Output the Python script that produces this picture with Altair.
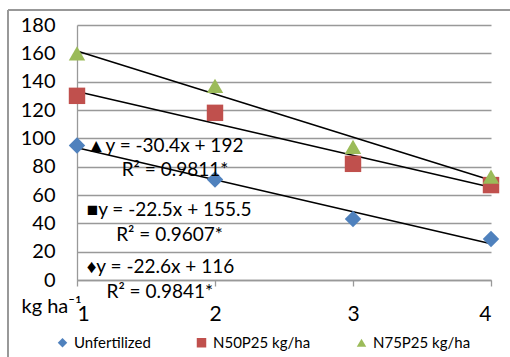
import altair as alt
import pandas as pd

doses = [1, 2, 3, 4]
series_names = ["Unfertilized", "N50P25 kg/ha", "N75P25 kg/ha"]
unfertilized = [95, 71, 43, 29]
n50p25 = [130, 118, 82, 67]
n75p25 = [160, 137, 94, 73]
colors = ["#4F81BD", "#C0504D", "#9BBB59"]
shapes = ["diamond", "square", "triangle-up"]
y_ticks = [0, 20, 40, 60, 80, 100, 120, 140, 160, 180]

ann_text = ["▲y = -30.4x + 192", "R² = 0.9811*",
            "■y = -22.5x + 155.5", "R² = 0.9607*",
            "♦y = -22.6x + 116", "R² = 0.9841*"]
ann_x = [1.07, 1.71, 1.07, 1.67, 1.07, 1.60]
ann_y = [94.3, 77.6, 49.2, 31.8, 9.4, -8.3]
ann_kind = ["eq", "r2", "eq", "r2", "eq", "r2"]

rows = []
for name, vals in zip(series_names, [unfertilized, n50p25, n75p25]):
    for d, v in zip(doses, vals):
        rows.append({"dose": d, "yield": v, "series": name})
df = pd.DataFrame(rows)
ann = pd.DataFrame({"x": ann_x, "y": ann_y, "text": ann_text, "kind": ann_kind})

FONT = "Lato"
xscale = alt.Scale(domain=[1, 4], nice=False, zero=False)
yscale = alt.Scale(domain=[0, 180], nice=False)

xaxis = alt.Axis(values=doses, format="d", grid=False, domainColor="#999999",
                 domainWidth=1.3, tickColor="#999999", tickSize=6, tickWidth=1.3,
                 labelFontSize=21, labelPadding=17, labelColor="#000",
                 labelFont=FONT, labelOverlap=False, title="kg ha⁻¹", titleFont=FONT,
                 titleFontSize=20, titleFontWeight="normal", titleColor="#000",
                 titleX=-56, titleY=26, titleAlign="left",
                 titleBaseline="middle", titleAnchor="start")
yaxis = alt.Axis(values=y_ticks, grid=True, gridColor="#999999",
                 gridWidth=1.3, domainColor="#999999", domainWidth=1.3,
                 ticks=False, labelPadding=22, labelFontSize=20,
                 labelOverlap=False, labelFlush=False,
                 labelFont=FONT, labelColor="#000", title=None)

leg = alt.Legend(orient="none", legendX=-22, legendY=310,
                 direction="horizontal", title=None,
                 labelFont=FONT, labelFontSize=15,
                 labelColor="#000", symbolSize=90,
                 columnPadding=43, labelOffset=4,
                 strokeColor="transparent")

base = alt.Chart(df)

points = base.mark_point(filled=True, opacity=1, size=270).encode(
    x=alt.X("dose:Q", scale=xscale, axis=xaxis),
    y=alt.Y("yield:Q", scale=yscale, axis=yaxis),
    color=alt.Color("series:N", scale=alt.Scale(domain=series_names, range=colors),
                    legend=leg),
    shape=alt.Shape("series:N", scale=alt.Scale(domain=series_names, range=shapes),
                    legend=leg),
)

trend = base.transform_regression("dose", "yield", groupby=["series"]).mark_line(
    color="black", strokeWidth=1.5
).encode(
    x=alt.X("dose:Q", scale=xscale, axis=xaxis),
    y=alt.Y("yield:Q", scale=yscale, axis=yaxis),
    detail="series:N",
)

tbase = alt.Chart(ann).encode(
    x=alt.X("x:Q", scale=xscale, axis=xaxis),
    y=alt.Y("y:Q", scale=yscale, axis=yaxis),
    text="text:N",
)
eq_text = tbase.transform_filter(alt.datum.kind == "eq").mark_text(
    fontSize=19, font=FONT, color="#000", baseline="middle", align="left")
r2_text = tbase.transform_filter(alt.datum.kind == "r2").mark_text(
    fontSize=19, font=FONT, color="#000", baseline="middle", align="center")

border_top = alt.Chart(df).mark_rule(stroke="#999999", strokeWidth=1.3).encode(
    x=alt.value(-69), x2=alt.value(500), y=alt.value(-15)
)
border_left = alt.Chart(df).mark_rule(stroke="#999999", strokeWidth=1.3).encode(
    x=alt.value(-69), y=alt.value(-15), y2=alt.value(400)
)

chart = alt.layer(trend, points, eq_text, r2_text, border_top, border_left).properties(
    width=414, height=255,
    padding={"left": 77, "top": 25, "right": 19, "bottom": 77},
    autosize=alt.AutoSizeParams(type="none"),
    background="white",
).configure_view(stroke=None)

chart.save("out.html", embed_options={"renderer": "svg", "actions": False})
